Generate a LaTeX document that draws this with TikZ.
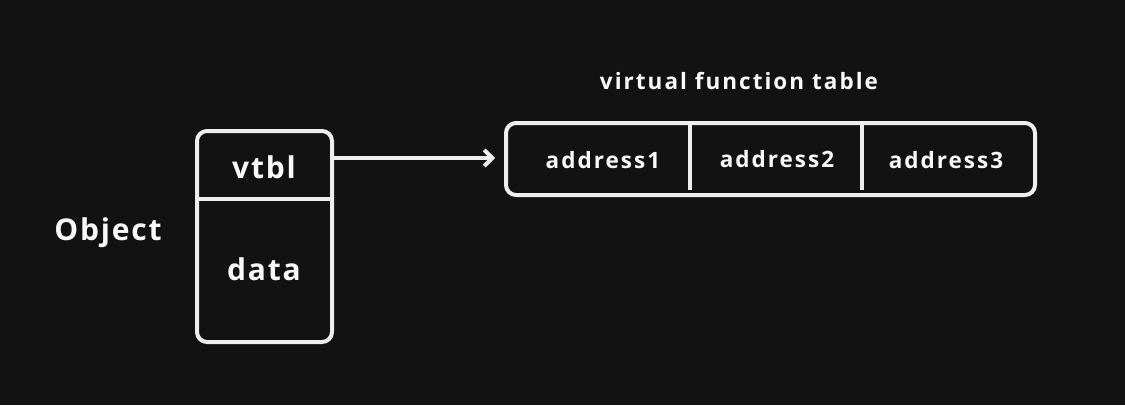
\documentclass[tikz,border=0pt]{standalone}
\usepackage{fontspec}
\setmainfont{Open Sans}[LetterSpace=6]
\newfontfamily\smallfam{Open Sans}[LetterSpace=9]
\usetikzlibrary{arrows.meta}
\definecolor{bg}{HTML}{121212}
\definecolor{ink}{HTML}{EEEEEE}
\definecolor{txt}{HTML}{F8F8F8}
\tikzset{
  box/.style={draw=ink, line width=4pt, rounded corners=10pt, inner sep=0pt},
  rule/.style={draw=ink, line width=4pt, line cap=round},
  small/.style={text=txt, anchor=base, inner sep=0pt, font=\smallfam\fontsize{22.5}{27}\selectfont\bfseries},
  big/.style={text=txt, anchor=base, inner sep=0pt, font=\fontsize{30}{35}\selectfont\bfseries},
  conn/.style={draw=ink, line width=4pt, line cap=round, line join=round, -{Straight Barb[length=8pt,width=16pt,line width=4pt]}}
}
\begin{document}
\begin{tikzpicture}[x=1pt,y=-1pt]
\fill[bg] (0,0) rectangle (1125,405);
\useasboundingbox (0,0) rectangle (1125,405);
% object
\node[box, minimum width=135pt, minimum height=211pt] (obj) at (264.5,236.5) {};
\coordinate (odiv) at (264.5,199);
\draw[rule, line cap=butt] (obj.west |- odiv) -- (obj.east |- odiv);
\node[big] (vtbl) at (264,178) {vtbl};
\node[big] (data) at (264,280) {data};
\node[big] (object) at (108,240) {Object};
% table
\node[box, minimum width=529pt, minimum height=72pt] (tbl) at (770.5,159) {};
\coordinate (d1) at (690,159);
\coordinate (d2) at (862,159);
\draw[rule, line cap=butt] (d1 |- tbl.north) -- ([yshift=7pt]d1 |- tbl.south);
\draw[rule, line cap=butt] (d2 |- tbl.north) -- ([yshift=7pt]d2 |- tbl.south);
\node[small] (a1) at (603,168) {address1};
\node[small] (a2) at (777,167) {address2};
\node[small] (a3) at (946,168) {address3};
\node[small] (title) at (739,89) {virtual function table};
% arrow
\coordinate (ay) at (400,158);
\draw[conn, shorten >=9pt] (obj.east |- ay) -- (tbl.west |- ay);
\end{tikzpicture}
\end{document}
